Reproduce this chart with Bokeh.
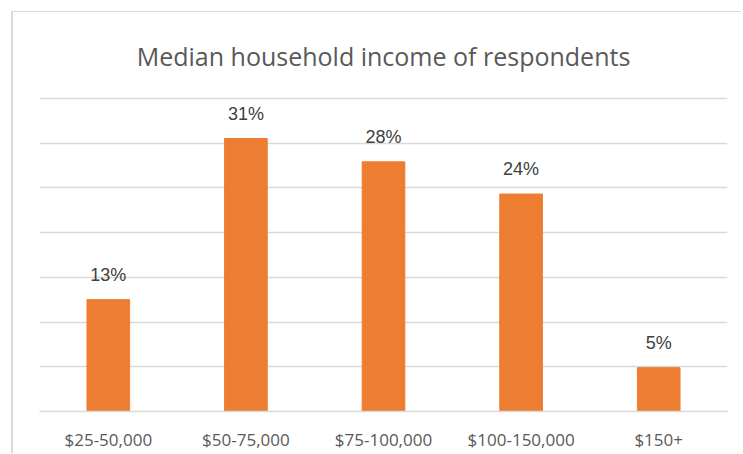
from bokeh.plotting import figure
from bokeh.models import ColumnDataSource, FactorRange, Range1d, FixedTicker, LabelSet, Title
from bokeh.core.properties import value
from bokeh.embed import file_html
from bokeh.resources import INLINE

title_text = "Median household income of respondents"
categories = ["$25-50,000", "$50-75,000", "$75-100,000", "$100-150,000", "$150+"]
shares = [12.5, 30.5, 27.9, 24.3, 4.9]
share_labels = ["13%", "31%", "28%", "24%", "5%"]
grid_ticks = [0, 5, 10, 15, 20, 25, 30, 35]
y_max = 35.2

src = ColumnDataSource(dict(cat=categories, val=shares, lab=share_labels))

W, H = 730, 442
p = figure(width=W, height=H, output_backend="svg", toolbar_location=None,
           x_range=FactorRange(*categories, range_padding=0),
           y_range=Range1d(0, y_max),
           min_border_left=26, min_border_right=16, min_border_top=82, min_border_bottom=43)
p.styles = {"margin-left": "11px", "margin-top": "11px",
            "border-left": "2px solid #d9d9d9", "border-top": "1px solid #d9d9d9"}

p.title = Title(text=title_text, align="center",
                text_font="Open Sans", text_font_size="25px", text_font_style="normal",
                text_color="#595959", standoff=48)

p.vbar(x="cat", top="val", width=0.31, source=src, color="#ED7D31")

labels = LabelSet(x="cat", y="val", text="lab", source=src, y_offset=19,
                  text_align="center", text_baseline="alphabetic",
                  text_font=value("Liberation Sans"), text_font_size=value("18px"),
                  text_color=value("#404040"))
p.add_layout(labels)

p.yaxis.visible = False
p.ygrid.ticker = FixedTicker(ticks=grid_ticks)
p.ygrid.grid_line_color = "#d9d9d9"
p.ygrid.grid_line_width = 1.5
p.xgrid.grid_line_color = None

p.xaxis.axis_line_color = "#d9d9d9"
p.xaxis.axis_line_width = 1.5
p.xaxis.major_tick_line_color = None
p.xaxis.minor_tick_line_color = None
p.xaxis.major_label_text_font = "Open Sans"
p.xaxis.major_label_text_font_size = "17px"
p.xaxis.major_label_text_color = "#595959"
p.xaxis.major_label_standoff = 10

p.outline_line_color = None
p.background_fill_color = "white"
p.border_fill_color = "white"

open("out.html", "w").write(file_html(p, INLINE))
